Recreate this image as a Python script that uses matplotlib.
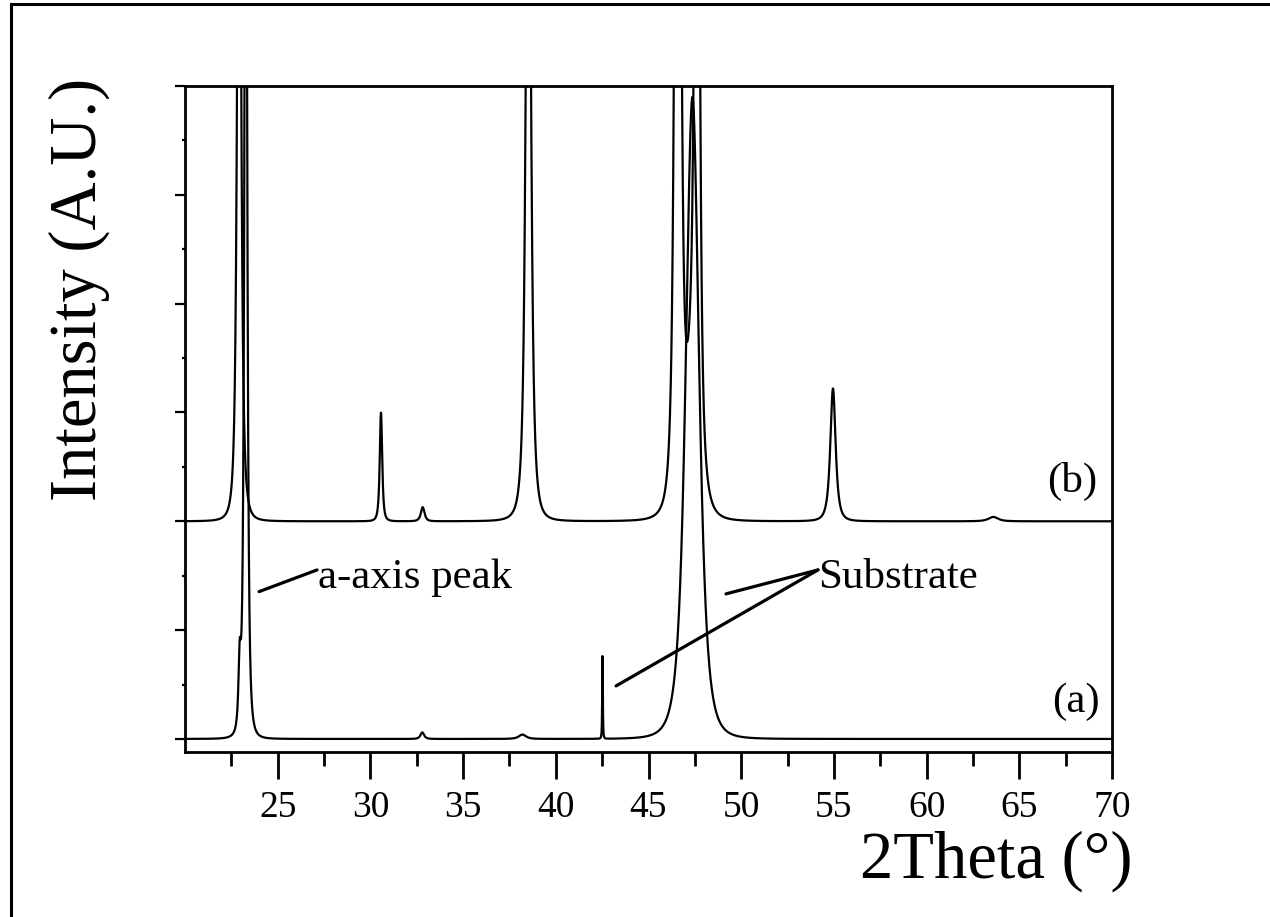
import numpy as np
import matplotlib.pyplot as plt
from matplotlib.lines import Line2D

plt.rcParams['font.family'] = ['Liberation Serif', 'DejaVu Serif']

# peak tables: position (deg), height (A.U.), half width, shape exponent
a_pos = [22.95, 23.28, 32.80, 38.20, 42.52, 47.37]
a_height = [0.60, 10.0, 0.06, 0.04, 0.78, 5.9]
a_width = [0.10, 0.11, 0.15, 0.30, 0.025, 0.65]
a_shape = [1.5, 1.5, 1.5, 1.5, 1.5, 2.0]

b_pos = [22.92, 30.57, 32.82, 38.52, 46.58, 47.37, 47.62, 54.95, 63.6]
b_height = [8.0, 1.0, 0.13, 8.0, 15.0, 1.2, 12.0, 1.22, 0.04]
b_width = [0.15, 0.10, 0.15, 0.19, 0.18, 0.65, 0.15, 0.22, 0.40]
b_shape = [1.5, 1.5, 1.5, 1.5, 1.5, 2.0, 1.5, 1.5, 1.5]
b_offset = 2.0

x_ticks = [25, 30, 35, 40, 45, 50, 55, 60, 65, 70]


def pattern(x, pos, height, width, shape):
    y = np.zeros_like(x)
    for c, h, w, m in zip(pos, height, width, shape):
        y += h / (1 + ((x - c) / w) ** 2) ** m
    return y


two_theta = np.linspace(20, 70, 6001)
ya = pattern(two_theta, a_pos, a_height, a_width, a_shape)
yb = pattern(two_theta, b_pos, b_height, b_width, b_shape) + b_offset

fig = plt.figure(figsize=(12.7, 9.17), dpi=100)
ax = fig.add_axes([185 / 1270, 1 - 752 / 917, (1112 - 185) / 1270, (752 - 86) / 917])

ax.plot(two_theta, ya, color='black', lw=1.6)
ax.plot(two_theta, yb, color='black', lw=1.6)

ax.set_xlim(20, 70)
ax.set_ylim(-0.12, 6)
ax.set_xticks(x_ticks)
ax.set_xticks(np.arange(22.5, 70, 5), minor=True)
ax.set_yticks(np.arange(0, 6.1, 1))
ax.set_yticks(np.arange(0.5, 6, 1), minor=True)
ax.tick_params(axis='x', which='major', length=19.5, width=2, labelsize=27, pad=8)
ax.tick_params(axis='x', which='minor', length=10, width=2)
ax.tick_params(axis='y', which='major', length=7, width=1.6, labelleft=False)
ax.tick_params(axis='y', which='minor', length=2.5, width=1.6)
for s in ax.spines.values():
    s.set_linewidth(2)

# annotations
ax.text(27.17, 1.388, 'a-axis peak', fontsize=31, ha='left', va='baseline')
ax.annotate('', xy=(24.0, 1.354), xytext=(27.12, 1.553),
            arrowprops=dict(arrowstyle='-', lw=2.3, color='black', shrinkA=0, shrinkB=0))
ax.text(54.14, 1.388, 'Substrate', fontsize=31, ha='left', va='baseline')
ax.annotate('', xy=(49.18, 1.333), xytext=(54.14, 1.553),
            arrowprops=dict(arrowstyle='-', lw=2.3, color='black', shrinkA=0, shrinkB=0))
ax.annotate('', xy=(43.25, 0.487), xytext=(54.14, 1.553),
            arrowprops=dict(arrowstyle='-', lw=2.3, color='black', shrinkA=0, shrinkB=0))
ax.text(69.19, 2.27, '(b)', fontsize=31, ha='right', va='baseline')
ax.text(69.35, 0.248, '(a)', fontsize=31, ha='right', va='baseline')

fig.text(1132 / 1270, 1 - 878 / 917, '2Theta (\u00b0)', fontsize=48, ha='right', va='baseline')
fig.text(79 / 1270, 1 - 289 / 917, 'Intensity (A.U.)', fontsize=48, rotation=90,
         ha='center', va='center')

# frame round the picture (left and top only)
fig.add_artist(Line2D([11 / 1270, 11 / 1270], [0, 1 - 4 / 917], transform=fig.transFigure,
                      color='black', lw=2.2))
fig.add_artist(Line2D([11 / 1270, 1], [1 - 4 / 917, 1 - 4 / 917], transform=fig.transFigure,
                      color='black', lw=2.2))

fig.savefig('out.png', dpi=100)
